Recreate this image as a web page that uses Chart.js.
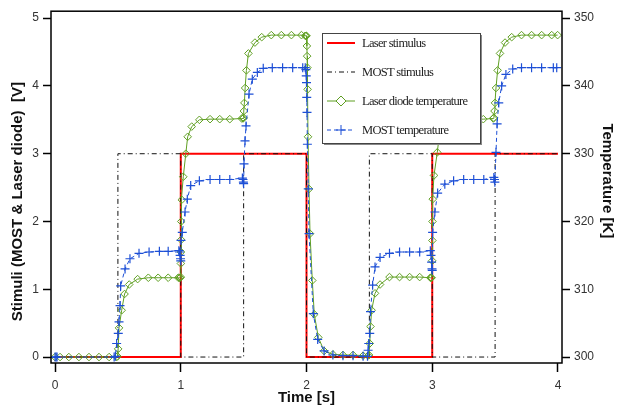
<!DOCTYPE html>
<html>
<head>
<meta charset="utf-8">
<script src="https://cdn.jsdelivr.net/npm/chart.js@4.4.1/dist/chart.umd.min.js"></script>
<style>
  body { margin: 0; background: #fff; }
  #wrap { width: 617px; height: 408px; }
</style>
</head>
<body>
<div id="wrap"><canvas id="chart" width="617" height="408"></canvas></div>
<script>
// tick labels
const timeTicks = [0, 1, 2, 3, 4];
const stimTicks = [0, 1, 2, 3, 4, 5];
const tempTicks = [300, 310, 320, 330, 340, 350];

// stimuli [V]
const laserStimT = [0, 1, 1, 2, 2, 3, 3, 4];
const laserStimV = [0, 0, 3, 3, 0, 0, 3, 3];
const mostStimT = [0, 0.5, 0.5, 1, 1, 1.5, 1.5, 2, 2, 2.5, 2.5, 3, 3, 3.5, 3.5, 4];
const mostStimV = [0, 0, 3, 3, 0, 0, 3, 3, 0, 0, 3, 3, 0, 0, 3, 3];

// laser diode temperature [K]
const diodeT = [0, 0.04, 0.11, 0.19, 0.27, 0.35, 0.43, 0.49, 0.497, 0.502, 0.509, 0.53, 0.553, 0.59, 0.657, 0.742, 0.82, 0.90, 0.98, 0.99, 0.995, 1.0,
  1.001, 1.002, 1.003, 1.004, 1.008, 1.02, 1.04, 1.055, 1.087, 1.148, 1.233, 1.31, 1.39, 1.485, 1.495, 1.5,
  1.502, 1.506, 1.512, 1.522, 1.538, 1.59, 1.644, 1.72, 1.80, 1.88, 1.96, 1.99, 1.995, 2.0,
  2.003, 2.005, 2.007, 2.009, 2.012, 2.02, 2.028, 2.046, 2.062, 2.094, 2.14, 2.21, 2.29, 2.37, 2.45, 2.49, 2.497,
  2.503, 2.509, 2.518, 2.545, 2.585, 2.66, 2.74, 2.82, 2.90, 2.985, 2.99, 2.995, 3.0,
  3.001, 3.002, 3.004, 3.014, 3.04, 3.055, 3.087, 3.148, 3.233, 3.31, 3.406, 3.485, 3.49,
  3.495, 3.499, 3.507, 3.52, 3.539, 3.579, 3.632, 3.71, 3.79, 3.87, 3.95, 3.997];
const diodeK = [300, 300, 300, 300, 300, 300, 300, 300, 300.1, 301.2, 304.3, 306.9, 309.3, 310.7, 311.5, 311.7, 311.7, 311.7, 311.7, 311.7, 311.7, 311.8,
  313.8, 315.5, 317.3, 320.0, 323.2, 326.6, 330.0, 332.5, 334.0, 335.0, 335.1, 335.1, 335.1, 335.2, 335.2, 335.3,
  336.3, 337.5, 339.7, 342.3, 344.8, 346.4, 347.2, 347.5, 347.5, 347.5, 347.5, 347.4, 347.4, 347.4,
  345.9, 344.4, 342.7, 339.5, 332.5, 324.8, 318.2, 311.3, 306.3, 302.9, 300.9, 300.4, 300.3, 300.3, 300.2, 300.2, 300.3,
  302.0, 304.5, 306.9, 309.4, 310.7, 311.8, 311.8, 311.8, 311.8, 311.7, 311.7, 311.7, 314.2,
  317.2, 320.0, 323.3, 326.8, 330.2, 332.5, 334.0, 335.0, 335.1, 335.1, 335.1, 335.2, 335.3,
  336.3, 337.5, 339.7, 342.3, 344.8, 346.4, 347.2, 347.5, 347.5, 347.5, 347.5, 347.5];

// MOST temperature [K]
const mostT = [0, 0.008, 0.016, 0.47, 0.48, 0.49, 0.503, 0.509, 0.517, 0.522, 0.557, 0.596, 0.668, 0.748, 0.83, 0.90, 0.985, 0.99, 0.995, 0.998, 1.0,
  1.002, 1.012, 1.034, 1.052, 1.079, 1.148, 1.233, 1.31, 1.39, 1.49, 1.495, 1.498, 1.5,
  1.503, 1.511, 1.519, 1.543, 1.569, 1.609, 1.656, 1.728, 1.81, 1.89, 1.97, 1.99, 1.995, 1.998, 2.0,
  2.002, 2.004, 2.007, 2.014, 2.02, 2.054, 2.089, 2.14, 2.21, 2.29, 2.37, 2.45, 2.485,
  2.49, 2.495, 2.503, 2.509, 2.526, 2.545, 2.585, 2.66, 2.74, 2.82, 2.90, 2.985, 2.99, 2.995, 2.998, 3.0,
  3.003, 3.021, 3.043, 3.10, 3.17, 3.25, 3.33, 3.41, 3.49, 3.495, 3.498,
  3.507, 3.516, 3.529, 3.552, 3.586, 3.64, 3.71, 3.79, 3.87, 3.963, 3.99];
const mostK = [300, 300, 300, 300, 300.1, 302.0, 303.5, 305.2, 307.6, 310.5, 313.0, 314.5, 315.3, 315.5, 315.6, 315.6, 315.7, 315.5, 315.0, 314.5, 314.2,
  317.2, 318.4, 321.4, 323.3, 325.3, 326.0, 326.2, 326.2, 326.2, 326.4, 326.2, 325.8, 325.6,
  328.5, 331.9, 334.1, 338.8, 341.0, 342.0, 342.6, 342.7, 342.7, 342.7, 342.7, 342.7, 342.4, 341.5, 340.5,
  338.3, 336.1, 331.4, 324.8, 318.2, 306.4, 302.6, 300.9, 300.3, 300.2, 300.2, 300.1, 300.1,
  301.0, 302.0, 303.5, 306.7, 310.6, 313.3, 314.7, 315.3, 315.5, 315.5, 315.5, 315.7, 315.0, 314.0, 313.0, 312.8,
  318.4, 321.4, 324.2, 325.5, 326.0, 326.2, 326.2, 326.2, 326.5, 326.2, 325.8,
  330.2, 334.4, 337.5, 340.0, 341.7, 342.5, 342.7, 342.7, 342.7, 342.7, 342.7];

const toXY = (xs, ys) => xs.map((x, i) => ({ x: x, y: ys[i] }));

const axisFont = { family: 'Liberation Sans, Arial, sans-serif', size: 12 };
const titleFont = { family: 'Liberation Sans, Arial, sans-serif', size: 15, weight: 'bold' };

// frame around the plot area
const framePlugin = {
    id: 'frame',
    afterDatasetsDraw(chart) {
        const { ctx, chartArea: a } = chart;
        ctx.save();
        ctx.strokeStyle = '#000';
        ctx.lineWidth = 1.5;
        ctx.strokeRect(a.left, a.top, a.right - a.left, a.bottom - a.top);
        ctx.restore();
    }
};

// legend box drawn inside the plot
const boxLegend = {
    id: 'boxLegend',
    afterDraw(chart) {
        const ctx = chart.ctx;
        const x0 = 322, y0 = 33, w = 158, h = 110;
        ctx.save();
        ctx.fillStyle = '#888';
        ctx.fillRect(x0 + 2, y0 + 2, w, h);
        ctx.fillStyle = '#fff';
        ctx.fillRect(x0, y0, w, h);
        ctx.strokeStyle = '#444';
        ctx.lineWidth = 1;
        ctx.strokeRect(x0 + 0.5, y0 + 0.5, w, h);
        chart.data.datasets.forEach((ds, i) => {
            const y = 43 + i * 29;
            ctx.strokeStyle = ds.borderColor;
            ctx.lineWidth = ds.borderWidth;
            ctx.setLineDash(ds.borderDash || []);
            ctx.beginPath();
            ctx.moveTo(327, y);
            ctx.lineTo(355, y);
            ctx.stroke();
            ctx.setLineDash([]);
            if (ds.pointStyle === 'rectRot') {
                const r = 5;
                ctx.fillStyle = '#fff';
                ctx.beginPath();
                ctx.moveTo(341 - r, y); ctx.lineTo(341, y - r);
                ctx.lineTo(341 + r, y); ctx.lineTo(341, y + r);
                ctx.closePath();
                ctx.fill();
                ctx.stroke();
            } else if (ds.pointStyle === 'cross') {
                const r = 5;
                ctx.beginPath();
                ctx.moveTo(341 - r, y); ctx.lineTo(341 + r, y);
                ctx.moveTo(341, y - r); ctx.lineTo(341, y + r);
                ctx.stroke();
            }
            ctx.fillStyle = '#222';
            ctx.font = '12.5px "Liberation Serif", "Times New Roman", serif';
            ctx.letterSpacing = '-0.7px';
            ctx.textBaseline = 'middle';
            ctx.textAlign = 'left';
            ctx.fillText(ds.label, 362, y + 1);
        });
        ctx.restore();
    }
};

new Chart(document.getElementById('chart'), {
    type: 'scatter',
    data: {
        datasets: [
            {
                label: 'Laser stimulus',
                data: toXY(laserStimT, laserStimV),
                yAxisID: 'y',
                showLine: true,
                borderColor: '#ff0000',
                borderWidth: 2,
                pointRadius: 0,
                order: 4
            },
            {
                label: 'MOST stimulus',
                data: toXY(mostStimT, mostStimV),
                yAxisID: 'y',
                showLine: true,
                borderColor: '#111111',
                borderWidth: 1,
                borderDash: [5, 3, 1, 3],
                pointRadius: 0,
                order: 3
            },
            {
                label: 'Laser diode temperature',
                data: toXY(diodeT, diodeK),
                yAxisID: 'y2',
                showLine: true,
                borderColor: '#5f9f22',
                borderWidth: 1,
                pointStyle: 'rectRot',
                pointRadius: 3.8,
                pointBorderWidth: 1,
                pointBorderColor: '#5f9f22',
                pointBackgroundColor: 'rgba(255,255,255,0)',
                order: 2
            },
            {
                label: 'MOST temperature',
                data: toXY(mostT, mostK),
                yAxisID: 'y2',
                showLine: true,
                borderColor: '#1d4fd6',
                borderWidth: 1,
                borderDash: [4, 3],
                pointStyle: 'cross',
                pointRadius: 4.5,
                pointBorderWidth: 1.2,
                pointBorderColor: '#1d4fd6',
                order: 1
            }
        ]
    },
    options: {
        responsive: false,
        animation: false,
        layout: { padding: { top: 10, left: 0, right: 0, bottom: 0 } },
        plugins: {
            legend: { display: false },
            tooltip: { enabled: false }
        },
        scales: {
            x: {
                type: 'linear',
                min: -0.032,
                max: 4.032,
                afterBuildTicks: s => { s.ticks = timeTicks.map(v => ({ value: v })); },
                afterFit: s => { s.height = 45; },
                border: { display: false },
                grid: { drawOnChartArea: false, drawTicks: true, tickLength: 9, tickColor: '#000', tickWidth: 1.5 },
                ticks: { font: axisFont, color: '#333', padding: 6, maxRotation: 0 },
                title: { display: true, text: 'Time [s]', font: titleFont, color: '#111', padding: { top: 0, bottom: 1 } }
            },
            y: {
                position: 'left',
                min: -0.088,
                max: 5.103,
                afterBuildTicks: s => { s.ticks = stimTicks.map(v => ({ value: v })); },
                afterFit: s => { s.width = 51; },
                border: { display: false },
                grid: { drawOnChartArea: false, drawTicks: true, tickLength: 8, tickColor: '#000', tickWidth: 1.5 },
                ticks: { font: axisFont, color: '#333', padding: 4 },
                // trailing spaces nudge the centred title a little lower, as in the original
                title: { display: true, text: 'Stimuli (MOST & Laser diode)  [V]       ', font: titleFont, color: '#111', padding: { top: 9, bottom: 0 } }
            },
            y2: {
                position: 'right',
                min: 299.12,
                max: 351.03,
                afterBuildTicks: s => { s.ticks = tempTicks.map(v => ({ value: v })); },
                afterFit: s => { s.width = 55; },
                border: { display: false },
                grid: { drawOnChartArea: false, drawTicks: true, tickLength: 8, tickColor: '#000', tickWidth: 1.5 },
                ticks: { font: axisFont, color: '#333', padding: 4 },
                title: { display: true, text: 'Temperature [K]   ', font: titleFont, color: '#111', padding: { top: 1, bottom: 0 } }
            }
        }
    },
    plugins: [framePlugin, boxLegend]
});
</script>
</body>
</html>
